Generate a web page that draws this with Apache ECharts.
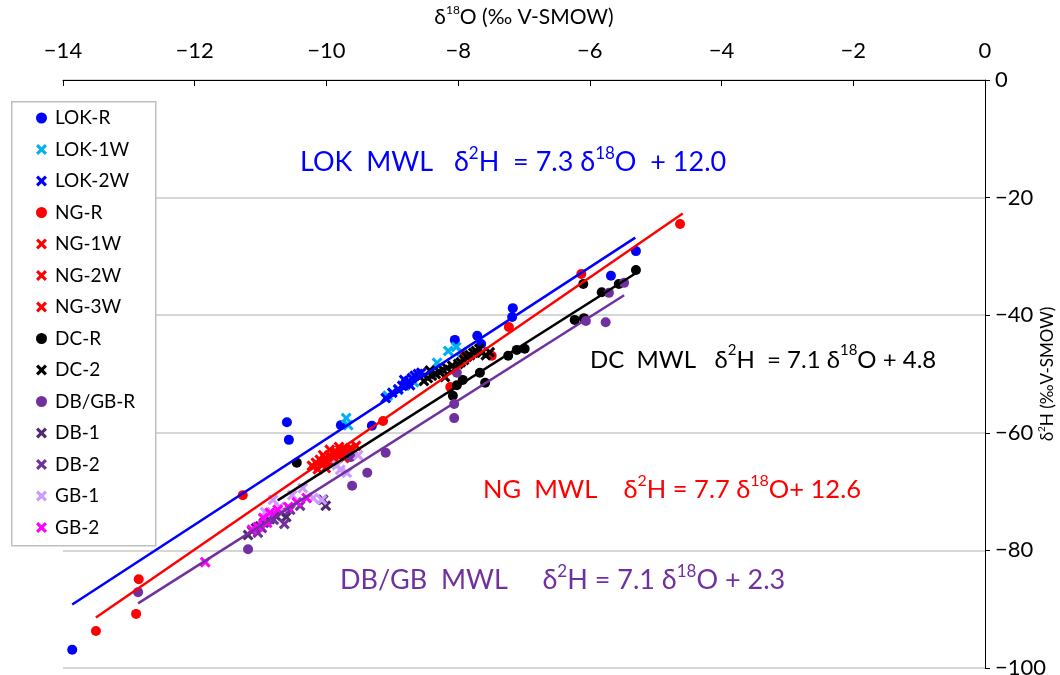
<!DOCTYPE html>
<html>
<head>
<meta charset="utf-8">
<script src="https://cdn.jsdelivr.net/npm/echarts@6/dist/echarts.min.js"></script>
<style>
  html, body { margin: 0; padding: 0; background: #fff; }
  #chart { width: 1060px; height: 675px; }
</style>
</head>
<body>
<div id="chart"></div>
<script>
// d18O, d2H pairs (‰ V-SMOW)
const lokR = [[-13.86, -96.9], [-10.60, -58.2], [-10.57, -61.2], [-9.78, -58.7], [-9.31, -58.8], [-8.05, -44.2], [-7.71, -43.5], [-7.65, -44.9], [-7.17, -38.8], [-7.18, -40.3], [-5.68, -33.3], [-5.30, -29.1]]
const lok1W = [[-9.70, -57.5], [-9.67, -58.7], [-9.07, -53.7], [-8.91, -52.7], [-8.81, -52.0], [-8.67, -51.4], [-8.32, -48.1], [-8.15, -46.1], [-8.03, -45.4], [-7.94, -46.3]]
const lok2W = [[-9.10, -54.1], [-9.00, -53.2], [-8.91, -52.6], [-8.85, -52.0], [-8.79, -51.7], [-8.75, -51.2], [-8.70, -50.7], [-8.66, -50.3], [-8.61, -50.0], [-8.56, -49.8], [-8.73, -51.9], [-8.82, -51.0]]
const ngR = [[-13.50, -93.7], [-12.89, -90.8], [-12.85, -84.9], [-11.27, -70.6], [-9.14, -58.0], [-8.12, -52.2], [-7.90, -46.9], [-7.49, -46.9], [-7.23, -42.0], [-6.13, -33.0], [-4.63, -24.5]]
const ng1W = [[-10.22, -65.6], [-10.10, -64.6], [-10.02, -64.3], [-9.95, -63.8], [-9.85, -63.3], [-9.76, -63.6], [-9.67, -63.3], [-9.55, -62.2]]
const ng2W = [[-10.16, -65.1], [-10.07, -65.5], [-9.98, -65.0], [-9.90, -64.3], [-9.82, -63.9], [-9.72, -62.8], [-9.60, -62.9], [-10.13, -66.2]]
const ng3W = [[-10.01, -66.0], [-9.89, -65.0], [-9.73, -64.3], [-9.95, -62.9], [-9.81, -62.4], [-10.05, -63.8], [-9.64, -63.8], [-9.79, -62.9], [-9.64, -62.6]]
const dcR = [[-10.45, -65.1], [-8.08, -53.7], [-8.02, -51.9], [-7.93, -51.0], [-7.67, -49.8], [-7.59, -51.5], [-7.24, -46.9], [-7.11, -45.9], [-6.99, -45.7], [-6.23, -40.8], [-6.09, -40.5], [-6.10, -34.7], [-5.82, -36.1], [-5.56, -34.7], [-5.30, -32.3]]
const dc2 = [[-8.52, -51.2], [-8.46, -50.7], [-8.40, -50.3], [-8.34, -50.0], [-8.28, -49.7], [-8.23, -49.3], [-8.17, -49.0], [-8.09, -48.6], [-8.05, -49.1], [-8.00, -48.3], [-7.96, -48.0], [-7.91, -47.6], [-7.87, -47.1], [-7.82, -46.8], [-7.77, -46.4], [-7.73, -46.1], [-7.68, -45.7], [-7.64, -46.4], [-7.58, -46.8], [-7.52, -46.3], [-8.20, -50.5], [-8.43, -49.4]]
const dbgbR = [[-12.86, -87.1], [-11.19, -79.8], [-9.61, -69.0], [-9.63, -64.1], [-9.38, -66.8], [-9.10, -63.4], [-8.06, -55.1], [-8.06, -57.5], [-8.02, -49.8], [-6.06, -41.0], [-5.76, -41.2], [-5.71, -36.2], [-5.48, -34.5]]
const db1 = [[-11.19, -77.4], [-11.13, -76.7], [-11.07, -76.2], [-11.01, -75.9], [-10.95, -75.3], [-10.86, -74.7], [-10.77, -74.1], [-10.69, -73.6], [-10.61, -74.3], [-10.05, -71.4], [-10.01, -72.4]]
const db2 = [[-10.98, -76.2], [-10.80, -74.8], [-10.55, -73.1], [-10.40, -72.4], [-11.04, -77.0], [-10.64, -75.5]]
const gb1 = [[-10.36, -69.4], [-10.20, -71.1], [-10.07, -71.4], [-10.71, -72.6], [-10.81, -71.4], [-9.52, -63.8], [-9.84, -65.5], [-9.79, -66.3], [-9.69, -66.8], [-10.93, -73.5], [-10.52, -70.6]]
const gb2 = [[-11.84, -82.0], [-10.96, -74.5], [-10.86, -73.6], [-10.58, -72.6], [-10.45, -71.8], [-10.30, -71.1], [-10.90, -75.3], [-11.04, -76.0], [-10.74, -73.1], [-11.13, -76.5]]

// meteoric water lines, end points
const lokLine = [[-13.86, -89.2], [-5.31, -26.8]]
const ngLine = [[-13.50, -91.4], [-4.59, -22.7]]
const dcLine = [[-10.74, -71.5], [-5.28, -32.7]]
const dbgbLine = [[-12.86, -89.0], [-5.48, -36.6]]

const xTicks = { min: -14, max: 0, step: 2 }
const yTicks = { min: -100, max: 0, step: 20 }

const FONT = 'Lato, "Open Sans", sans-serif'
const CROSS = 'path://M2,0 L5,3 L8,0 L10,2 L7,5 L10,8 L8,10 L5,7 L2,10 L0,8 L3,5 L0,2 Z'

const pointSets = [
  { name: 'LOK-R', data: lokR, color: '#0000ff', symbol: 'circle' },
  { name: 'LOK-1W', data: lok1W, color: '#00b0f0', symbol: CROSS },
  { name: 'LOK-2W', data: lok2W, color: '#0000ff', symbol: CROSS },
  { name: 'NG-R', data: ngR, color: '#ff0000', symbol: 'circle' },
  { name: 'NG-1W', data: ng1W, color: '#ff0000', symbol: CROSS },
  { name: 'NG-2W', data: ng2W, color: '#ff0000', symbol: CROSS },
  { name: 'NG-3W', data: ng3W, color: '#ff0000', symbol: CROSS },
  { name: 'DC-R', data: dcR, color: '#000000', symbol: 'circle' },
  { name: 'DC-2', data: dc2, color: '#000000', symbol: CROSS },
  { name: 'DB/GB-R', data: dbgbR, color: '#7030a0', symbol: 'circle' },
  { name: 'DB-1', data: db1, color: '#4e2a6e', symbol: CROSS },
  { name: 'DB-2', data: db2, color: '#7030a0', symbol: CROSS },
  { name: 'GB-1', data: gb1, color: '#cc99ff', symbol: CROSS },
  { name: 'GB-2', data: gb2, color: '#ff00ff', symbol: CROSS }
]

const lineSets = [
  { name: 'LOK MWL', data: lokLine, color: '#0000ff' },
  { name: 'NG MWL', data: ngLine, color: '#ff0000' },
  { name: 'DC MWL', data: dcLine, color: '#000000' },
  { name: 'DB/GB MWL', data: dbgbLine, color: '#7030a0' }
]

const minus = v => String(v).replace('-', '\u2212')

const eqRich = (color, size) => ({
  n: { fontSize: size, fontFamily: FONT, color, lineHeight: 36 },
  s: { fontSize: Math.round(size * 0.63), fontFamily: FONT, color, lineHeight: 36, verticalAlign: 'top', padding: [1, 0, 0, 0] }
})

const equation = (left, top, color, size, text) => ({
  type: 'text',
  left,
  top,
  z: 50,
  style: { text, rich: eqRich(color, size), fill: color }
})

const series = pointSets.map(p => ({
  name: p.name,
  type: 'scatter',
  data: p.data,
  symbol: p.symbol,
  symbolSize: p.symbol === 'circle' ? 10 : 11,
  itemStyle: { color: p.color, opacity: 1 },
  z: 2
})).concat(lineSets.map(l => ({
  name: l.name,
  type: 'line',
  data: l.data,
  showSymbol: false,
  symbol: 'none',
  lineStyle: { color: l.color, width: 2.5 },
  z: 3,
  silent: true
})))

const chart = echarts.init(document.getElementById('chart'))
chart.setOption({
  animation: false,
  backgroundColor: '#fff',
  grid: { left: 63, right: 75, top: 80, bottom: 7, outerBoundsMode: 'none', containLabel: false },
  xAxis: {
    type: 'value',
    position: 'top',
    min: xTicks.min,
    max: xTicks.max,
    interval: xTicks.step,
    axisLine: { show: true, onZero: false, lineStyle: { color: '#000', width: 1 } },
    axisTick: { show: true, inside: true, length: 6, lineStyle: { color: '#000' } },
    axisLabel: { fontSize: 22, fontFamily: FONT, color: '#000', margin: 18, formatter: minus },
    splitLine: { show: false },
    name: '{n|δ}{s|18}{n|O (‰ V-SMOW)}',
    nameLocation: 'middle',
    nameGap: 50,
    nameMoveOverlap: false,
    nameTextStyle: {
      rich: {
        n: { fontSize: 21, fontFamily: FONT, color: '#000', lineHeight: 26 },
        s: { fontSize: 12, fontFamily: FONT, color: '#000', lineHeight: 26, verticalAlign: 'top' }
      }
    }
  },
  yAxis: {
    type: 'value',
    position: 'right',
    min: yTicks.min,
    max: yTicks.max,
    interval: yTicks.step,
    axisLine: { show: true, onZero: false, lineStyle: { color: '#000', width: 1 } },
    axisTick: { show: true, inside: false, length: 5, lineStyle: { color: '#000' } },
    axisLabel: { fontSize: 22, fontFamily: FONT, color: '#000', margin: 10, formatter: minus },
    splitLine: { show: true, lineStyle: { color: '#c8c8c8', width: 1.5 } },
    name: '{n|δ}{s|2}{n|H (‰V-SMOW)}',
    nameLocation: 'middle',
    nameGap: 52,
    nameRotate: 90,
    nameMoveOverlap: false,
    nameTextStyle: {
      rich: {
        n: { fontSize: 17, fontFamily: FONT, color: '#000', lineHeight: 22 },
        s: { fontSize: 10, fontFamily: FONT, color: '#000', lineHeight: 22, verticalAlign: 'top' }
      }
    }
  },
  legend: {
    orient: 'vertical',
    left: 36,
    top: 108,
    itemWidth: 11,
    itemHeight: 11,
    itemGap: 11.5,
    padding: 0,
    z: 60,
    textStyle: { fontSize: 19, fontFamily: FONT, color: '#000', lineHeight: 20, padding: [0, 0, 0, 3] },
    data: pointSets.map(p => ({ name: p.name, icon: p.symbol === 'circle' ? 'circle' : CROSS }))
  },
  graphic: [
    {
      type: 'rect',
      left: 11,
      top: 101,
      z: 40,
      shape: { width: 144, height: 444 },
      style: { fill: '#fff', stroke: '#bfbfbf', lineWidth: 1.5 }
    },
    equation(300, 144, '#0000ff', 27, '{n|LOK  MWL   δ}{s|2}{n|H  = 7.3 δ}{s|18}{n|O  + 12.0}'),
    equation(590, 342, '#000000', 24, '{n|DC  MWL   δ}{s|2}{n|H  = 7.1 δ}{s|18}{n|O + 4.8}'),
    equation(483, 472, '#ff0000', 25.5, '{n|NG  MWL    δ}{s|2}{n|H = 7.7 δ}{s|18}{n|O+ 12.6}'),
    equation(340, 562, '#7030a0', 27, '{n|DB/GB  MWL     δ}{s|2}{n|H = 7.1 δ}{s|18}{n|O + 2.3}')
  ],
  series
})
</script>
</body>
</html>
